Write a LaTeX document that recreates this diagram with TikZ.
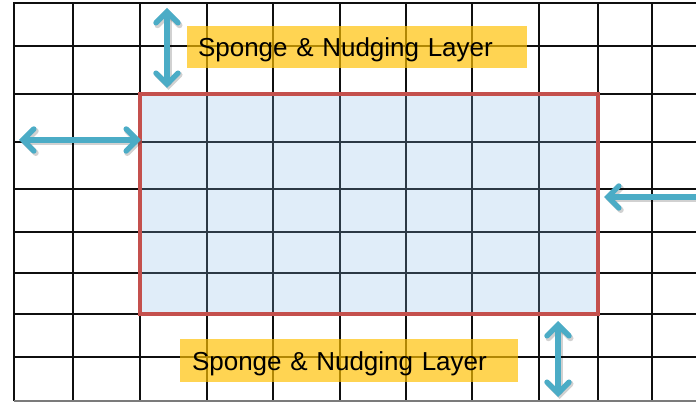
\documentclass[tikz,border=0pt]{standalone}
\usepackage{fontspec}
\setmainfont{Liberation Sans}
\usetikzlibrary{arrows.meta}
\definecolor{gridline}{RGB}{15,15,15}
\definecolor{domainred}{RGB}{196,80,77}
\definecolor{domainfill}{RGB}{132,184,232}
\definecolor{layeryellow}{RGB}{255,192,0}
\definecolor{arrowteal}{RGB}{75,172,198}
\tikzset{
  gridrule/.style={draw=gridline, line width=2pt},
  nestbox/.style={draw=domainred, line width=3.4pt, fill=domainfill, fill opacity=0.25},
  layerlabel/.style={fill=layeryellow, fill opacity=0.68, text opacity=1,
    font=\fontsize{26}{30}\selectfont, align=left, inner xsep=11pt, inner ysep=0pt,
    text height=19pt, text depth=0pt, minimum height=42pt, text width=318pt},
  barbs/.style={{Straight Barb[length=11pt, width=22pt, line cap=round]}-{Straight Barb[length=11pt, width=22pt, line cap=round]}},
  relaxarrow/.style={draw=arrowteal, line width=5.4pt, line cap=round, barbs},
  relaxshadow/.style={draw=black, draw opacity=0.18, line width=6pt, line cap=round, barbs,
    transform canvas={shift={(1.5pt,-2pt)}}},
}
\begin{document}
\begin{tikzpicture}[x=1pt, y=-1pt]
  \clip (0,0) rectangle (696,403);
  \fill[white] (0,0) rectangle (696,403);

  % outer model grid
  \foreach \gx in {73,140,207,273,340,406,472,539,598,652}
    \draw[gridrule] (\gx,3) -- (\gx,401);
  \foreach \gy in {46,94,142,189,232,273,314,357}
    \draw[gridrule] (14,\gy) -- (696,\gy);
  \draw[gridrule, line width=2.6pt] (14,401) -- (14,3) -- (696,3);
  \draw[draw=gridline!55, line width=1.6pt] (14,401) -- (696,401);

  % inner (nested) domain
  \node[nestbox, minimum width=458pt, minimum height=220pt, inner sep=0pt] (inner) at (369,204) {};

  % sponge & nudging layer labels
  \node[layerlabel] (toplabel) at (357,47) {Sponge \& Nudging Layer};
  \node[layerlabel, text width=314pt, inner xsep=12pt, minimum height=43pt] (botlabel) at (349,360.5) {Sponge \& Nudging Layer};

  % relaxation zone arrows
  \coordinate (topA) at (167,8);
  \coordinate (topB) at (167,88);
  \coordinate (leftA) at (19,140);
  \coordinate (leftB) at (141,140);
  \coordinate (rightA) at (604,197);
  \coordinate (rightB) at (730,197);
  \coordinate (botA) at (558,321);
  \coordinate (botB) at (558,397);
  \foreach \a/\b in {topA/topB, leftA/leftB, rightA/rightB, botA/botB}
    \draw[relaxshadow] (\a) -- (\b);
  \draw[relaxarrow] (topA) -- (topB);
  \draw[relaxarrow] (leftA) -- (leftB);
  \draw[relaxarrow] (rightA) -- (rightB);
  \draw[relaxarrow] (botA) -- (botB);
\end{tikzpicture}
\end{document}
